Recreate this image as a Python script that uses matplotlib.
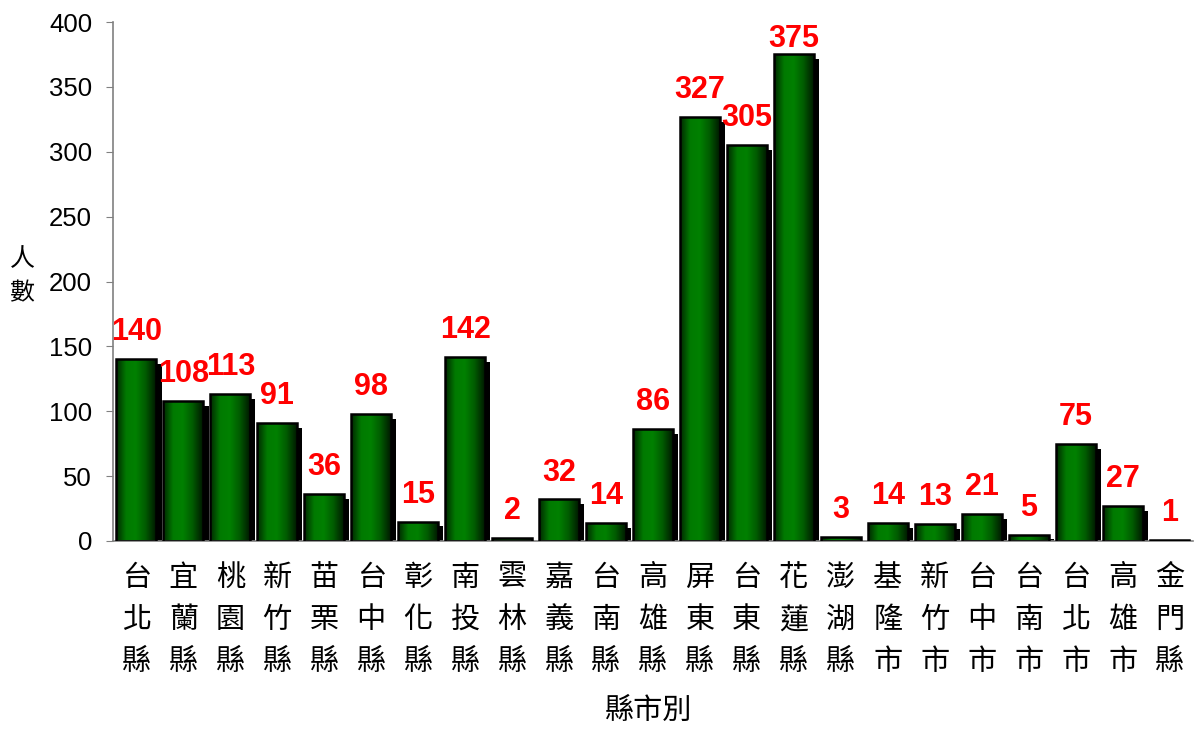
import numpy as np
import matplotlib.pyplot as plt
from matplotlib.colors import LinearSegmentedColormap
from matplotlib.patches import Rectangle

# 資料
counties = ['台北縣', '宜蘭縣', '桃園縣', '新竹縣', '苗栗縣', '台中縣', '彰化縣', '南投縣',
            '雲林縣', '嘉義縣', '台南縣', '高雄縣', '屏東縣', '台東縣', '花蓮縣', '澎湖縣',
            '基隆市', '新竹市', '台中市', '台南市', '台北市', '高雄市', '金門縣']
people = [140, 108, 113, 91, 36, 98, 15, 142, 2, 32, 14, 86, 327, 305, 375, 3,
          14, 13, 21, 5, 75, 27, 1]

cjk = ['Noto Sans CJK TC', 'DejaVu Sans']
num_font = ['Liberation Sans', 'DejaVu Sans']

fig = plt.figure(figsize=(11.99, 7.29), dpi=100)
ax = fig.add_axes([0.0942, 0.2579, 0.9008, 0.7119])

x = np.arange(len(counties))
w = 0.85
dx = 0.11   # 陰影偏移
dy = 3.8

# 綠色漸層 (邊暗中亮)
cmap = LinearSegmentedColormap.from_list('g', ['#002800', '#007a00', '#008000', '#005a00', '#001a00'])
grad = np.linspace(0, 1, 64).reshape(1, -1)

for xi, v in zip(x, people):
    left = xi - w / 2
    ax.add_patch(Rectangle((left + dx, 0), w, max(v - dy, 0), facecolor='black',
                           edgecolor='none', zorder=1))
    im = ax.imshow(grad, cmap=cmap, aspect='auto', extent=(left, left + w, 0, v),
                   zorder=2, interpolation='bilinear')
    rect = Rectangle((left, 0), w, v, facecolor='none', edgecolor='black',
                     linewidth=1.8, zorder=3)
    ax.add_patch(rect)
    im.set_clip_path(rect)
    # 標籤不超出圖頂
    ax.text(xi, min(v + 14.6, 380.5), str(v), color='red', fontsize=22, fontweight='bold',
            ha='center', va='baseline', family=num_font, zorder=4, clip_on=False)

ax.set_xlim(-0.5, len(counties) - 0.5)
ax.set_ylim(0, 400)
ax.set_yticks(range(0, 401, 50))
ax.set_yticklabels([str(t) for t in range(0, 401, 50)], fontsize=18.5, family=num_font)
ax.tick_params(axis='y', direction='out', length=5, color='#808080', pad=10)

ax.set_xticks(x)
ax.set_xticklabels(['\n'.join(c) for c in counties], family=cjk, fontsize=21,
                   linespacing=1.52)
ax.tick_params(axis='x', length=0, pad=16)

for s in ['top', 'right']:
    ax.spines[s].set_visible(False)
ax.spines['left'].set_color('#808080')
ax.spines['bottom'].set_color('#808080')
ax.spines['left'].set_linewidth(1.2)
ax.spines['bottom'].set_linewidth(1.2)

fig.text(0.0183, 0.621, '人\n數', family=cjk, fontsize=18, ha='center', va='center',
         linespacing=1.42)
fig.text(0.541, 0.025, '縣市別', family=cjk, fontsize=21, ha='center', va='center')

fig.savefig('out.png', dpi=100)
